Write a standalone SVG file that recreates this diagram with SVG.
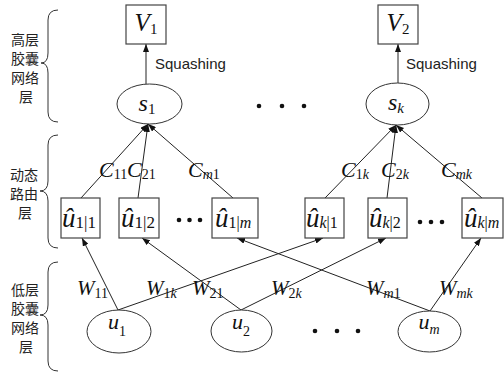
<svg xmlns="http://www.w3.org/2000/svg" width="504" height="374" viewBox="0 0 504 374">
<defs>
<style>
.bx{fill:#fff;stroke:#444;stroke-width:1.2}
.el{fill:#fff;stroke:#333;stroke-width:1}
.ln{stroke:#222;stroke-width:1;fill:none}
.br{stroke:#333;stroke-width:1;fill:none}
.m{font-family:"Liberation Serif","Times New Roman",serif;font-style:italic;fill:#111}
.d{font-style:normal}
.cn{font-family:"Noto Sans CJK SC","Noto Sans",sans-serif;font-size:14px;fill:#222;text-anchor:middle}
.sq{font-family:"Liberation Sans","Open Sans",sans-serif;font-size:15px;fill:#222}
.dot{fill:#111}
</style>
<marker id="ah" viewBox="0 0 8 6" refX="8" refY="3" markerWidth="8" markerHeight="6" markerUnits="userSpaceOnUse" orient="auto">
<path d="M0,0 L8,3 L0,6 z" fill="#111"/>
</marker>
</defs>
<rect width="504" height="374" fill="#fff"/>

<g id="layer-labels">
<path class="br" d="M58,10 Q48,10 48,20 L48,53 Q48,63 41,63 Q48,63 48,73 L48,112 Q48,122 58,122"/>
<path class="br" d="M58,135 Q48,135 48,145 L48,181 Q48,191 40,191 Q48,191 48,201 L48,238 Q48,248 58,248"/>
<path class="br" d="M58,262 Q48,262 48,272 L48,305 Q48,315 40,315 Q48,315 48,325 L48,361 Q48,371 58,371"/>
<text class="cn" x="25" y="45">高层</text>
<text class="cn" x="25" y="64">胶囊</text>
<text class="cn" x="25" y="83">网络</text>
<text class="cn" x="26" y="102">层</text>
<text class="cn" x="24" y="180">动态</text>
<text class="cn" x="24" y="199">路由</text>
<text class="cn" x="25" y="218">层</text>
<text class="cn" x="25" y="295">低层</text>
<text class="cn" x="25" y="314">胶囊</text>
<text class="cn" x="25" y="333">网络</text>
<text class="cn" x="26" y="352">层</text>
</g>

<g id="connectors">
<line class="ln" x1="146" y1="84" x2="146" y2="44" marker-end="url(#ah)"/>
<line class="ln" x1="398" y1="83" x2="398" y2="44" marker-end="url(#ah)"/>
<line class="ln" x1="81" y1="198" x2="148" y2="124" marker-end="url(#ah)"/>
<line class="ln" x1="138" y1="198" x2="148" y2="124" marker-end="url(#ah)"/>
<line class="ln" x1="233" y1="198" x2="148" y2="124" marker-end="url(#ah)"/>
<line class="ln" x1="325" y1="198" x2="396" y2="125" marker-end="url(#ah)"/>
<line class="ln" x1="387" y1="198" x2="396" y2="125" marker-end="url(#ah)"/>
<line class="ln" x1="482" y1="198" x2="396" y2="125" marker-end="url(#ah)"/>
<line class="ln" x1="118" y1="310" x2="82" y2="238" marker-end="url(#ah)"/>
<line class="ln" x1="118" y1="310" x2="323" y2="238" marker-end="url(#ah)"/>
<line class="ln" x1="241" y1="310" x2="142" y2="238" marker-end="url(#ah)"/>
<line class="ln" x1="241" y1="310" x2="386" y2="238" marker-end="url(#ah)"/>
<line class="ln" x1="430" y1="311" x2="237" y2="238" marker-end="url(#ah)"/>
<line class="ln" x1="430" y1="311" x2="481" y2="238" marker-end="url(#ah)"/>
<text class="sq" x="155" y="69">Squashing</text>
<text class="sq" x="406" y="69">Squashing</text>
<text class="m" x="99" y="177" font-size="22">C<tspan class="d" font-size="14" dy="2">11</tspan></text>
<text class="m" x="127" y="177" font-size="22">C<tspan class="d" font-size="14" dy="2">21</tspan></text>
<text class="m" x="188" y="177" font-size="22">C<tspan font-size="14" dy="2">m</tspan><tspan class="d" font-size="14">1</tspan></text>
<text class="m" x="341" y="177" font-size="22">C<tspan class="d" font-size="14" dy="2">1</tspan><tspan font-size="14">k</tspan></text>
<text class="m" x="381" y="177" font-size="22">C<tspan class="d" font-size="14" dy="2">2</tspan><tspan font-size="14">k</tspan></text>
<text class="m" x="441" y="177" font-size="22">C<tspan font-size="14" dy="2">mk</tspan></text>
<text class="m" x="77" y="295" font-size="21">W<tspan class="d" font-size="14" dy="3">11</tspan></text>
<text class="m" x="146" y="295" font-size="21">W<tspan class="d" font-size="14" dy="3">1</tspan><tspan font-size="14">k</tspan></text>
<text class="m" x="192" y="295" font-size="21">W<tspan class="d" font-size="14" dy="3">21</tspan></text>
<text class="m" x="271" y="295" font-size="21">W<tspan class="d" font-size="14" dy="3">2</tspan><tspan font-size="14">k</tspan></text>
<text class="m" x="366" y="295" font-size="21">W<tspan font-size="14" dy="3">m</tspan><tspan class="d" font-size="14">1</tspan></text>
<text class="m" x="439" y="295" font-size="21">W<tspan font-size="14" dy="3">mk</tspan></text>
</g>

<g id="V1">
<rect class="bx" x="126" y="5" width="40" height="39"/>
<text class="m" x="146" y="31" font-size="25" text-anchor="middle">V<tspan class="d" font-size="15" dy="3">1</tspan></text>
</g>
<g id="V2">
<rect class="bx" x="378" y="5" width="40" height="39"/>
<text class="m" x="398" y="31" font-size="25" text-anchor="middle">V<tspan class="d" font-size="15" dy="3">2</tspan></text>
</g>
<g id="s1">
<ellipse class="el" cx="149.5" cy="104" rx="32.5" ry="20"/>
<text class="m" x="147" y="111" font-size="24" text-anchor="middle">s<tspan class="d" font-size="15" dy="3">1</tspan></text>
</g>
<g id="sk">
<ellipse class="el" cx="397.5" cy="104" rx="31.5" ry="21"/>
<text class="m" x="396" y="110" font-size="24" text-anchor="middle">s<tspan font-size="15" dy="3">k</tspan></text>
</g>
<g id="dots-top">
<circle class="dot" cx="259" cy="106" r="2.3"/><circle class="dot" cx="282" cy="106" r="2.3"/><circle class="dot" cx="304" cy="106" r="2.3"/>
</g>

<g id="u11">
<rect class="bx" x="61" y="198" width="39" height="40"/>
<text class="m" x="62" y="227" font-size="27">û<tspan class="d" font-size="17" dy="1">1|1</tspan></text>
</g>
<g id="u12">
<rect class="bx" x="119" y="198" width="40" height="40"/>
<text class="m" x="121" y="227" font-size="27">û<tspan class="d" font-size="17" dy="1">1|2</tspan></text>
</g>
<g id="u1m">
<rect class="bx" x="212" y="198" width="46" height="40"/>
<text class="m" x="215" y="227" font-size="27">û<tspan class="d" font-size="16" dy="1">1|</tspan><tspan font-size="16">m</tspan></text>
</g>
<g id="uk1">
<rect class="bx" x="305" y="198" width="39" height="40"/>
<text class="m" x="306" y="227" font-size="27">û<tspan font-size="16" dy="1">k</tspan><tspan class="d" font-size="16">|1</tspan></text>
</g>
<g id="uk2">
<rect class="bx" x="368" y="198" width="39" height="40"/>
<text class="m" x="369" y="227" font-size="27">û<tspan font-size="16" dy="1">k</tspan><tspan class="d" font-size="16">|2</tspan></text>
</g>
<g id="ukm">
<rect class="bx" x="462" y="198" width="41" height="40"/>
<text class="m" x="464" y="227" font-size="27">û<tspan font-size="16" dy="1">k</tspan><tspan class="d" font-size="16">|</tspan><tspan font-size="16">m</tspan></text>
</g>
<g id="dots-mid">
<circle class="dot" cx="179" cy="220" r="2.3"/><circle class="dot" cx="189.5" cy="220" r="2.3"/><circle class="dot" cx="200" cy="220" r="2.3"/>
<circle class="dot" cx="420" cy="222" r="2.3"/><circle class="dot" cx="431" cy="222" r="2.3"/><circle class="dot" cx="442" cy="222" r="2.3"/>
</g>

<g id="u1">
<ellipse class="el" cx="119" cy="331.5" rx="32" ry="21.5"/>
<text class="m" x="117" y="329" font-size="22" text-anchor="middle">u<tspan class="d" font-size="14" dy="7">1</tspan></text>
</g>
<g id="u2">
<ellipse class="el" cx="241.5" cy="331" rx="30.5" ry="21"/>
<text class="m" x="241" y="329" font-size="22" text-anchor="middle">u<tspan class="d" font-size="14" dy="7">2</tspan></text>
</g>
<g id="um">
<ellipse class="el" cx="429.5" cy="331.5" rx="31.5" ry="20.5"/>
<text class="m" x="429" y="329" font-size="22" text-anchor="middle">u<tspan font-size="14" dy="5">m</tspan></text>
</g>
<g id="dots-bottom">
<circle class="dot" cx="315" cy="331" r="2.3"/><circle class="dot" cx="337" cy="331" r="2.3"/><circle class="dot" cx="358" cy="331" r="2.3"/>
</g>
</svg>
